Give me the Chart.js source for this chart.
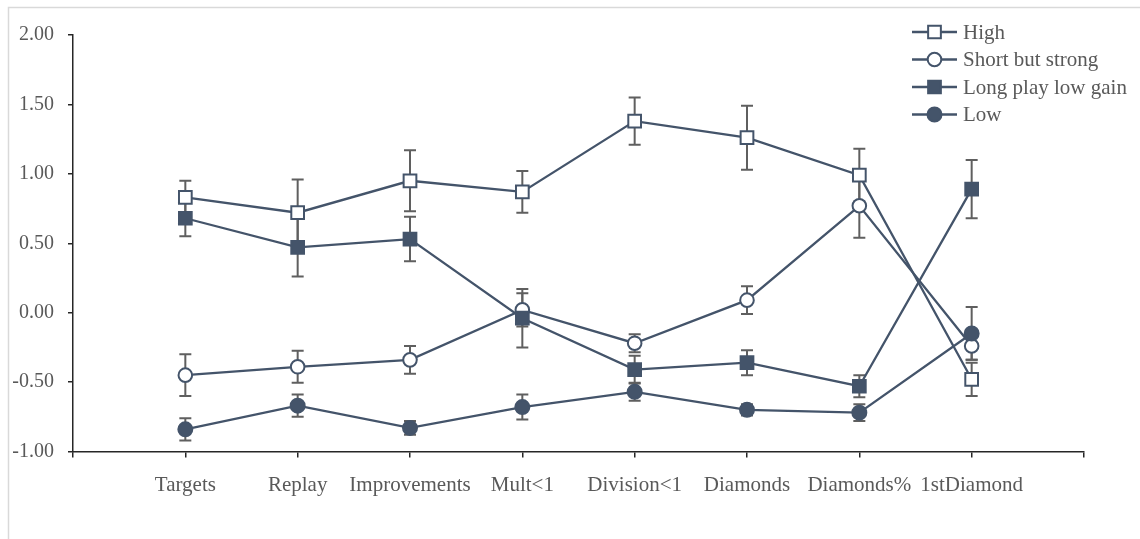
<!DOCTYPE html>
<html>
<head>
<meta charset="utf-8">
<script src="https://cdn.jsdelivr.net/npm/chart.js@4/dist/chart.umd.min.js"></script>
<style>
  html, body { margin: 0; padding: 0; background: #ffffff; }
  #wrap { position: relative; width: 1140px; height: 539px; }
</style>
</head>
<body>
<div id="wrap"><canvas id="chart" width="1140" height="539"></canvas></div>
<script>
// Indicator categories along the horizontal axis
const categories = ['Targets', 'Replay', 'Improvements', 'Mult<1', 'Division<1', 'Diamonds', 'Diamonds%', '1stDiamond'];

// Profile means (standardised) and their error half-widths
const seriesNames = ['High', 'Short but strong', 'Long play low gain', 'Low'];
const highValues = [0.83, 0.72, 0.95, 0.87, 1.38, 1.26, 0.99, -0.48];
const highErrors = [0.12, 0.24, 0.22, 0.15, 0.17, 0.23, 0.19, 0.12];
const shortStrongValues = [-0.45, -0.39, -0.34, 0.02, -0.22, 0.09, 0.77, -0.24];
const shortStrongErrors = [0.15, 0.115, 0.10, 0.12, 0.065, 0.10, 0.23, 0.10];
const longPlayValues = [0.68, 0.47, 0.53, -0.04, -0.41, -0.36, -0.53, 0.89];
const longPlayErrors = [0.13, 0.21, 0.16, 0.21, 0.10, 0.09, 0.08, 0.21];
const lowValues = [-0.84, -0.67, -0.83, -0.68, -0.57, -0.70, -0.72, -0.15];
const lowErrors = [0.08, 0.08, 0.05, 0.09, 0.065, 0.04, 0.06, 0.19];

// Y axis tick values
const yTicks = [-1.0, -0.5, 0.0, 0.5, 1.0, 1.5, 2.0];

const INK = '#44546A';
const ERR = '#5f5f5f';
const TEXT = '#595959';
const AXIS = '#262626';
const FONT = '"Liberation Serif", "Times New Roman", serif';

const markerStyles = [
  { pointStyle: 'rect',   radius: 9,   fill: '#ffffff' },
  { pointStyle: 'circle', radius: 6.8, fill: '#ffffff' },
  { pointStyle: 'rect',   radius: 9,   fill: INK },
  { pointStyle: 'circle', radius: 7,   fill: INK }
];
const valueSets = [highValues, shortStrongValues, longPlayValues, lowValues];
const errorSets = [highErrors, shortStrongErrors, longPlayErrors, lowErrors];

const datasets = valueSets.map((vals, s) => ({
  label: seriesNames[s],
  data: vals.map((v, i) => ({ x: i, y: v })),
  showLine: true,
  borderColor: INK,
  borderWidth: 2.3,
  pointStyle: markerStyles[s].pointStyle,
  pointRadius: markerStyles[s].radius,
  pointHoverRadius: markerStyles[s].radius,
  pointBackgroundColor: markerStyles[s].fill,
  pointBorderColor: INK,
  pointBorderWidth: 2,
  order: 4 - s,
  errors: errorSets[s]
}));

// Light frame around the drawing
const framePlugin = {
  id: 'frame',
  beforeDraw(chart) {
    const ctx = chart.ctx;
    ctx.save();
    ctx.strokeStyle = '#d9d9d9';
    ctx.lineWidth = 1.5;
    ctx.beginPath();
    ctx.moveTo(8.5, 539);
    ctx.lineTo(8.5, 7.5);
    ctx.lineTo(1140, 7.5);
    ctx.stroke();
    ctx.restore();
  }
};

// Vertical error bars with caps, drawn beneath the lines and markers
const errorBarPlugin = {
  id: 'errorBars',
  beforeDatasetsDraw(chart) {
    const ctx = chart.ctx;
    const xs = chart.scales.x, ys = chart.scales.y;
    ctx.save();
    ctx.strokeStyle = ERR;
    ctx.lineWidth = 2;
    chart.data.datasets.forEach(ds => {
      ds.data.forEach((p, i) => {
        const e = ds.errors[i];
        const px = xs.getPixelForValue(p.x);
        const top = ys.getPixelForValue(p.y + e);
        const bot = ys.getPixelForValue(p.y - e);
        ctx.beginPath();
        ctx.moveTo(px, top); ctx.lineTo(px, bot);
        ctx.moveTo(px - 6, top); ctx.lineTo(px + 6, top);
        ctx.moveTo(px - 6, bot); ctx.lineTo(px + 6, bot);
        ctx.stroke();
      });
    });
    ctx.restore();
  }
};

function drawMarker(ctx, style, x, y) {
  ctx.beginPath();
  if (style.pointStyle === 'rect') {
    const h = style.radius * Math.SQRT1_2;
    ctx.rect(x - h, y - h, 2 * h, 2 * h);
  } else {
    ctx.arc(x, y, style.radius, 0, Math.PI * 2);
  }
  ctx.fillStyle = style.fill;
  ctx.fill();
  ctx.strokeStyle = INK;
  ctx.lineWidth = 2;
  ctx.stroke();
}

// Legend: line sample with marker, then series name
const legendPlugin = {
  id: 'lineLegend',
  afterDraw(chart) {
    const ctx = chart.ctx;
    ctx.save();
    ctx.font = '21px ' + FONT;
    ctx.textBaseline = 'middle';
    ctx.textAlign = 'left';
    seriesNames.forEach((name, s) => {
      const y = 32 + s * 27.5;
      ctx.strokeStyle = INK;
      ctx.lineWidth = 2.3;
      ctx.beginPath();
      ctx.moveTo(912, y); ctx.lineTo(957, y);
      ctx.stroke();
      drawMarker(ctx, markerStyles[s], 934.5, y);
      ctx.fillStyle = TEXT;
      ctx.fillText(name, 963, y + 1);
    });
    ctx.restore();
  }
};

new Chart(document.getElementById('chart'), {
  type: 'scatter',
  data: { datasets },
  options: {
    responsive: false,
    animation: false,
    events: [],
    layout: { padding: { top: 35, right: 56, left: 8, bottom: 0 } },
    plugins: { legend: { display: false }, tooltip: { enabled: false } },
    scales: {
      x: {
        type: 'linear',
        min: -1,
        max: 8,
        afterBuildTicks(scale) {
          const t = [];
          for (let v = -1; v <= 8; v++) t.push({ value: v });
          scale.ticks = t;
        },
        afterFit(scale) { scale.height = 87.5; },
        ticks: {
          autoSkip: false,
          maxRotation: 0,
          padding: 15,
          color: TEXT,
          font: { family: FONT, size: 21 },
          callback: v => categories[v] ?? ''
        },
        grid: { drawOnChartArea: false, drawTicks: true, tickLength: 6, color: AXIS, lineWidth: 1.5 },
        border: { display: true, color: AXIS, width: 1.5 }
      },
      y: {
        min: -1,
        max: 2,
        afterBuildTicks(scale) { scale.ticks = yTicks.map(v => ({ value: v })); },
        afterFit(scale) { scale.width = 65; },
        ticks: {
          padding: 14,
          color: TEXT,
          font: { family: FONT, size: 20 },
          callback: v => Number(v).toFixed(2)
        },
        grid: { drawOnChartArea: false, drawTicks: true, tickLength: 5, color: AXIS, lineWidth: 1.5 },
        border: { display: true, color: AXIS, width: 1.5 }
      }
    }
  },
  plugins: [framePlugin, errorBarPlugin, legendPlugin]
});
</script>
</body>
</html>
